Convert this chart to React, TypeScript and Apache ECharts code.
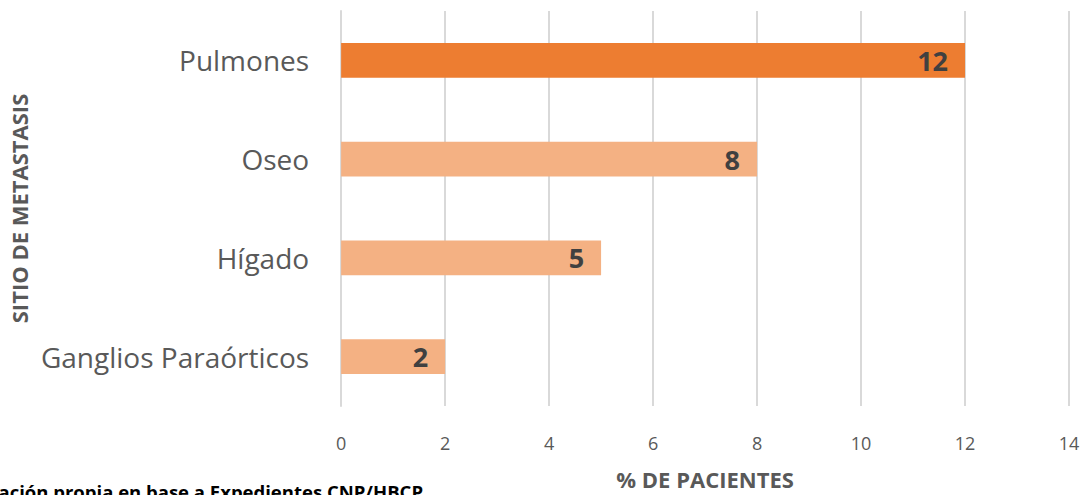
import React, { useEffect, useRef } from "react";
import * as echarts from "echarts";

const categories = ["Ganglios Paraórticos", "Hígado", "Oseo", "Pulmones"];
const values = [2, 5, 8, 12];
const barColors = ["#F4B183", "#F4B183", "#F4B183", "#ED7D31"];
const xTicks = [0, 2, 4, 6, 8, 10, 12, 14];
const xAxisTitle = "% DE PACIENTES";
const yAxisTitle = "SITIO DE METASTASIS";
const sourceNote = "Elaboración propia en base a Expedientes CNP/HBCP";

const FONT = "'Open Sans', 'Noto Sans', sans-serif";

export default function App() {
  const ref = useRef<HTMLDivElement>(null);
  useEffect(() => {
    if (!ref.current) return;
    const chart = echarts.init(ref.current, null, { renderer: "svg" });
    chart.setOption({
      animation: false,
      backgroundColor: "#ffffff",
      grid: { left: 341, right: 17, top: 11, bottom: 81, containLabel: false },
      xAxis: {
        type: "value",
        min: xTicks[0],
        max: xTicks[xTicks.length - 1],
        interval: 2,
        axisLine: { show: false },
        axisTick: { show: false },
        splitLine: { show: true, lineStyle: { color: "#D9D9D9", width: 2 } },
        axisLabel: { color: "#595959", fontSize: 18, fontFamily: FONT, margin: 28 },
        name: xAxisTitle,
        nameLocation: "middle",
        nameGap: 62,
        nameTextStyle: { color: "#595959", fontSize: 22, fontWeight: "bold", fontFamily: FONT },
      },
      yAxis: {
        type: "category",
        data: categories,
        axisLine: { show: true, lineStyle: { color: "#D9D9D9", width: 2 } },
        axisTick: { show: false },
        axisLabel: { color: "#595959", fontSize: 28, fontFamily: FONT, margin: 32 },
        name: yAxisTitle,
        nameLocation: "middle",
        nameGap: 310,
        nameRotate: 90,
        nameTextStyle: { color: "#595959", fontSize: 22, fontWeight: "bold", fontFamily: FONT },
      },
      series: [
        {
          type: "bar",
          data: values.map((v, i) => ({ value: v, itemStyle: { color: barColors[i] } })),
          barWidth: "35%",
          label: {
            show: true,
            position: "insideRight",
            distance: 17,
            color: "#404040",
            fontSize: 27,
            fontWeight: "bold",
            fontFamily: FONT,
          },
        },
      ],
      graphic: [
        {
          type: "text",
          right: 1086 - 423,
          top: 482,
          style: {
            text: sourceNote,
            fill: "#000000",
            font: `bold 18.5px ${FONT}`,
          },
        },
      ],
    });
    return () => chart.dispose();
  }, []);
  return (
    <div
      ref={ref}
      style={{ position: "fixed", left: 0, top: 0, width: 1086, height: 495 }}
    />
  );
}
